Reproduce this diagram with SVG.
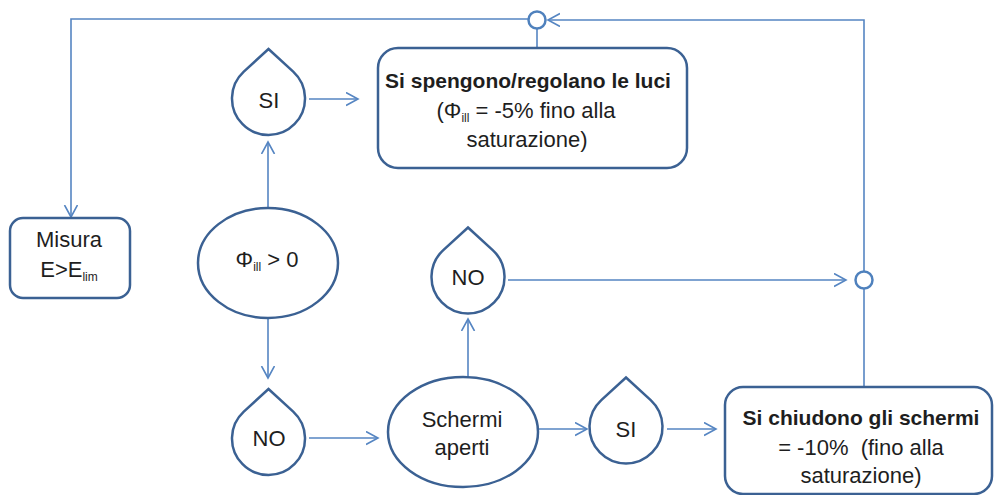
<svg xmlns="http://www.w3.org/2000/svg" width="994" height="495" viewBox="0 0 994 495">
  <style>
    .node { fill: #ffffff; stroke: #3b6193; stroke-width: 2.5; }
    .joint { fill: #ffffff; stroke: #4f81bd; stroke-width: 2.5; }
    .conn { fill: none; stroke: #5585c2; stroke-width: 1.6; }
    .txt { font-family: "Liberation Sans", Arial, sans-serif; font-size: 22px; fill: #1e1e1e; text-anchor: middle; }
    .bold { font-weight: bold; font-size: 21px; }
    .sub { font-size: 12px; }
  </style>
  <defs>
    <!-- droplet: circle of r=36.5 with a pointed tip on top -->
    <path id="drop" d="M0,-49.5 L24.7,-26.9 A36.5,36.5 0 1 1 -24.7,-26.9 Z"/>
    <marker id="arr" markerUnits="userSpaceOnUse" markerWidth="16" markerHeight="16" refX="12" refY="7" orient="auto">
      <path d="M0,0.5 L12,7 L0,13.5" fill="none" stroke="#5585c2" stroke-width="1.6"/>
    </marker>
  </defs>

  <!-- connectors -->
  <g id="connectors">
    <polyline class="conn" points="528,19 71,19 71,217" marker-end="url(#arr)"/>
    <line class="conn" x1="537" y1="29" x2="537" y2="48"/>
    <line class="conn" x1="864" y1="387" x2="864" y2="289"/>
    <polyline class="conn" points="864,271 864,20 548,20" marker-end="url(#arr)"/>
    <line class="conn" x1="309" y1="99" x2="358" y2="99" marker-end="url(#arr)"/>
    <line class="conn" x1="268" y1="208" x2="268" y2="142" marker-end="url(#arr)"/>
    <line class="conn" x1="268" y1="318" x2="268" y2="378" marker-end="url(#arr)"/>
    <line class="conn" x1="309" y1="438" x2="378" y2="438" marker-end="url(#arr)"/>
    <line class="conn" x1="468" y1="377" x2="468" y2="319" marker-end="url(#arr)"/>
    <line class="conn" x1="508" y1="280" x2="846" y2="280" marker-end="url(#arr)"/>
    <line class="conn" x1="537" y1="429" x2="587" y2="429" marker-end="url(#arr)"/>
    <line class="conn" x1="667" y1="429" x2="716" y2="429" marker-end="url(#arr)"/>
  </g>

  <!-- junction circles -->
  <g id="join-top">
    <circle class="joint" cx="537" cy="20" r="8.5"/>
  </g>
  <g id="join-right">
    <circle class="joint" cx="864" cy="280" r="8.5"/>
  </g>

  <g id="misura">
    <rect class="node" x="10" y="218" width="120" height="80" rx="13"/>
    <text class="txt" x="69" y="247">Misura</text>
    <text class="txt" x="69" y="277">E&gt;E<tspan class="sub" dy="4">lim</tspan></text>
  </g>

  <g id="phi-test">
    <ellipse class="node" cx="268" cy="263" rx="70" ry="55"/>
    <text class="txt" x="267" y="267" font-family="'Liberation Sans', Arial, sans-serif" font-size="20">Φ<tspan class="sub" dy="4">ill</tspan><tspan dy="-4"> &gt; 0</tspan></text>
  </g>

  <g id="si-top">
    <use href="#drop" class="node" transform="translate(268.5,98.5)"/>
    <text class="txt" x="269" y="108" font-size="21">SI</text>
  </g>

  <g id="no-bottom">
    <use href="#drop" class="node" transform="translate(268.5,438.5)"/>
    <text class="txt" x="269" y="446" font-size="21">NO</text>
  </g>

  <g id="lights-box">
    <rect class="node" x="378" y="48" width="309" height="120" rx="20"/>
    <text class="txt bold" x="528" y="88">Si spengono/regolano le luci</text>
    <text class="txt" x="526" y="118">(Φ<tspan class="sub" dy="4">ill</tspan><tspan dy="-4"> = -5% fino alla</tspan></text>
    <text class="txt" x="527" y="147">saturazione)</text>
  </g>

  <g id="screens-open">
    <ellipse class="node" cx="463" cy="432" rx="75" ry="55"/>
    <text class="txt" x="462" y="427">Schermi</text>
    <text class="txt" x="462" y="455">aperti</text>
  </g>

  <g id="no-middle">
    <use href="#drop" class="node" transform="translate(468,277)"/>
    <text class="txt" x="468" y="285" font-size="21">NO</text>
  </g>

  <g id="si-bottom">
    <use href="#drop" class="node" transform="translate(626,427)"/>
    <text class="txt" x="626" y="437" font-size="21">SI</text>
  </g>

  <g id="screens-box">
    <rect class="node" x="725" y="387" width="267" height="107" rx="18"/>
    <text class="txt bold" x="861" y="425">Si chiudono gli schermi</text>
    <text class="txt" x="861" y="455" xml:space="preserve">= -10%  (fino alla</text>
    <text class="txt" x="861" y="483">saturazione)</text>
  </g>
</svg>
